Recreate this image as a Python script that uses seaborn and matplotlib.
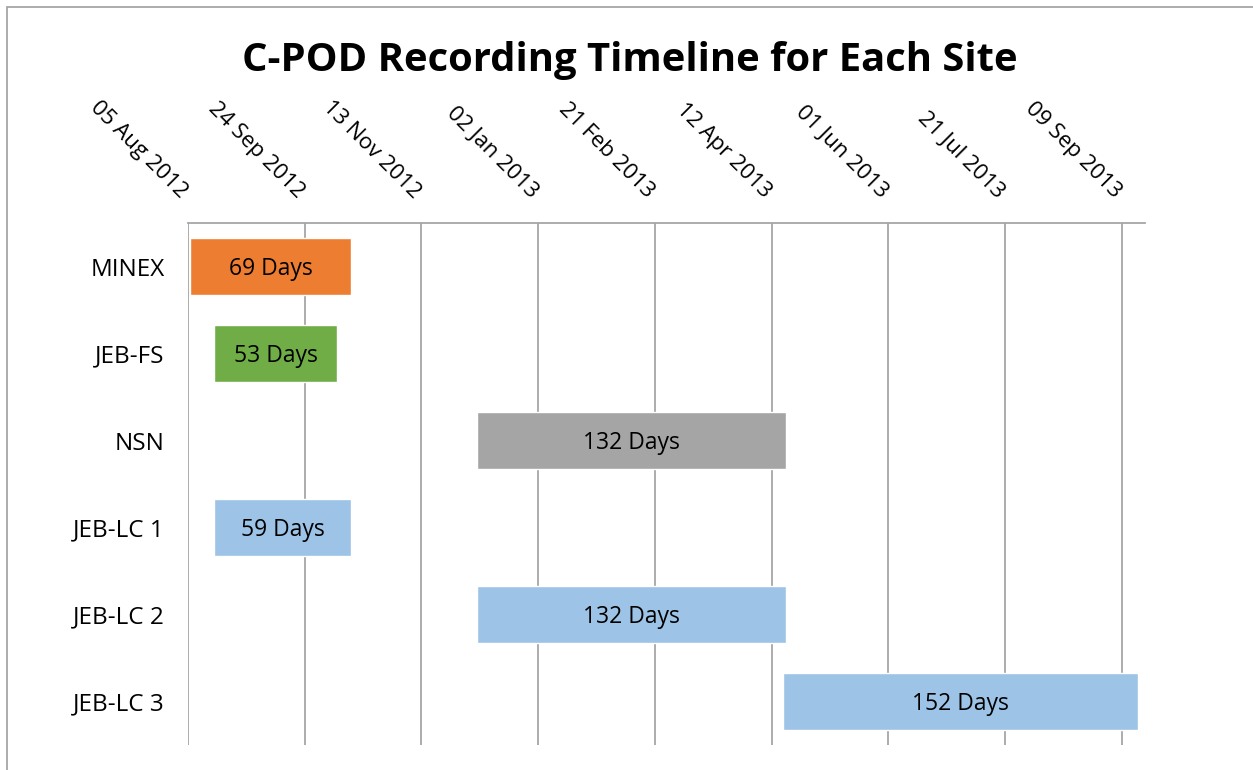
import matplotlib
matplotlib.use("Agg")
import matplotlib.pyplot as plt
import matplotlib.dates as mdates
from matplotlib.patches import Rectangle
from matplotlib.transforms import ScaledTranslation
import seaborn as sns
import pandas as pd

sites = ["MINEX", "JEB-FS", "NSN", "JEB-LC 1", "JEB-LC 2", "JEB-LC 3"]
start_dates = ["2012-08-06", "2012-08-16", "2012-12-07", "2012-08-16", "2012-12-07", "2013-04-17"]
durations = [69, 53, 132, 59, 132, 152]
bar_colors = ["#ED7D31", "#70AD47", "#A5A5A5", "#9DC3E6", "#9DC3E6", "#9DC3E6"]
tick_dates = pd.date_range("2012-08-05", periods=9, freq="50D")
axis_start = "2012-08-05"
axis_days = 410
title = "C-POD Recording Timeline for Each Site"

sns.set_theme(style="white")
plt.rcParams["font.family"] = ["Open Sans", "DejaVu Sans"]
plt.rcParams["text.color"] = "black"
plt.rcParams["xtick.color"] = "black"
plt.rcParams["ytick.color"] = "black"
plt.rcParams["xtick.labelcolor"] = "black"
plt.rcParams["ytick.labelcolor"] = "black"

fig = plt.figure(figsize=(12.53, 7.70), dpi=100)
ax = fig.add_axes([188/1253, 1-745/770, (1145-188)/1253, (745-223)/770])

df = pd.DataFrame({"site": sites, "start": pd.to_datetime(start_dates), "days": durations})
starts = mdates.date2num(df["start"])
ypos = list(range(len(sites)))
ax.barh(ypos, df["days"], left=starts, height=0.645, color=bar_colors, zorder=3)
for y, s, d in zip(ypos, starts, df["days"]):
    ax.text(s + d/2, y + 0.03, f"{d} Days", ha="center", va="center", fontsize=16.5, color="black", zorder=4)

x0 = mdates.date2num(pd.Timestamp(axis_start))
ax.set_xlim(x0, x0 + axis_days)
ax.set_ylim(len(sites) - 0.5, -0.5)
ax.set_yticks(ypos)
ax.set_yticklabels(sites, fontsize=17.5, color="black")
ax.tick_params(axis="y", length=0, pad=17)

ax.xaxis.tick_top()
ax.set_xticks(mdates.date2num(tick_dates))
labels = ax.set_xticklabels([d.strftime("%d %b %Y") for d in tick_dates], rotation=-45,
                            ha="right", va="center", rotation_mode="anchor", fontsize=16, color="black")
ax.tick_params(axis="x", length=0, pad=20)
shift = ScaledTranslation(-4/100, 0, fig.dpi_scale_trans)
for lab in labels:
    lab.set_transform(lab.get_transform() + shift)
ax.grid(axis="x", color="#A6A6A6", linewidth=1.3, zorder=0)
ax.grid(axis="y", visible=False)
for side in ["left", "right", "bottom"]:
    ax.spines[side].set_visible(False)
ax.spines["top"].set_color("#A6A6A6")
ax.spines["top"].set_linewidth(1.3)
ax.set_xlabel("")
ax.set_ylabel("")

fig.text(630/1253, 1-60/770, title, ha="center", va="center", fontsize=28.8, fontweight="bold", color="black")
fig.patches.append(Rectangle((7/1253, -0.05), 1.1, 1.05 - 7/770, transform=fig.transFigure,
                             fill=False, edgecolor="#A6A6A6", linewidth=1.3))

fig.savefig("out.png", dpi=100)
